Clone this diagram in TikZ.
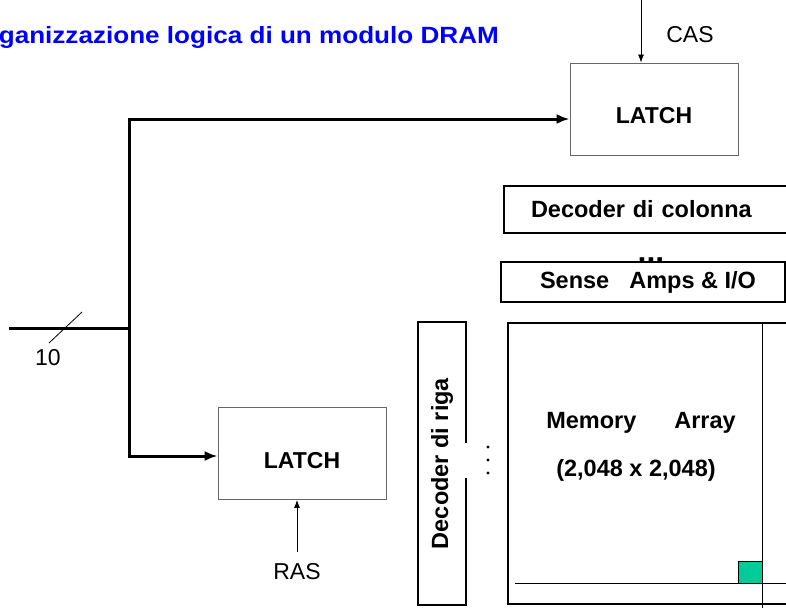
\documentclass[tikz,border=0pt]{standalone}
\usepackage{fontspec}
\setmainfont{Liberation Sans}
\usetikzlibrary{arrows.meta,positioning}
\definecolor{titleblue}{RGB}{0,0,255}
\definecolor{cellgreen}{RGB}{0,204,153}

\tikzset{
  latchbox/.style={draw=black!60, line width=0.8pt, minimum width=168pt,
    minimum height=92pt, text height=30pt, font=\fontsize{23}{27}\selectfont\bfseries},
  blockbox/.style={draw, line width=2pt, font=\fontsize{23.5}{28}\selectfont\bfseries},
  bus/.style={line width=3pt, -{Latex[length=13pt,width=10pt]}},
  ctrl/.style={line width=0.8pt, -{Latex[length=8pt,width=6pt]}},
  sig/.style={font=\fontsize{23}{27}\selectfont}
}

\begin{document}
\begin{tikzpicture}[x=1pt, y=-1pt]
  \useasboundingbox (0,0) rectangle (786,607);
  \clip (0,0) rectangle (786,607);

  \node[anchor=base east, text=titleblue, font=\fontsize{23.5}{28}\selectfont\bfseries,
    inner sep=0pt, xscale=1.11, transform shape] (title) at (499,44)
    {Organizzazione logica di un modulo DRAM};

  \node[latchbox] (latchcol) at (654,109) {LATCH};
  \node[latchbox] (latchrow) at (302,453.5) {LATCH};

  \coordinate (cassrc) at (641,0);
  \draw[ctrl] (cassrc) -- (cassrc |- latchcol.north);
  \node[sig] (cas) at (690,35) {CAS};

  \coordinate (rassrc) at (297,552);
  \draw[ctrl] (rassrc) -- (rassrc |- latchrow.south);
  \node[sig] (ras) at (297,572) {RAS};

  \coordinate (busin) at (9,328);
  \coordinate (bustop) at (129,119);
  \coordinate (busbot) at (129,456);
  \draw[line width=3pt] (busin) -- (busin -| bustop);
  \draw[bus] (busbot) -- (bustop) -- (bustop -| latchcol.west);
  \draw[bus] (bustop) -- (busbot) -- (busbot -| latchrow.west);
  \coordinate (slash) at (65,328);
  \draw[line width=0.8pt] ([shift={(-16,15)}]slash) -- ([shift={(17,-16)}]slash);
  \node[sig] (buswidth) at (48,358) {10};

  \node[blockbox, anchor=north west, minimum height=47pt, text width=270pt,
    align=left, inner xsep=27pt] (deccol) at (503,185) {Decoder di colonna};
  \node[font=\fontsize{32}{32}\selectfont\bfseries, inner sep=0pt, anchor=base]
    (coldots) at (651,262) {...};
  \node[blockbox, minimum width=284pt, minimum height=40pt] (sense) at (643,282)
    {\hspace{10pt}Sense\hspace{20pt}Amps \& I/O};

  \node[blockbox, anchor=north west, minimum width=320pt, minimum height=281pt]
    (memarr) at (507,322) {};
  \node[blockbox, draw=none] (memtxt) at (641,423) {Memory\hspace{38pt}Array};
  \node[blockbox, draw=none] (memdim) at (636,470) {(2,048 x 2,048)};
  \coordinate (bitline) at (762,322);
  \coordinate (wordline) at (515,583);
  \draw[line width=0.8pt] (bitline) -- ++(0,300);
  \draw[line width=0.8pt] (wordline) -- ++(300,0);
  \draw[fill=cellgreen, line width=0.8pt] (738,561) rectangle (762,583);

  \node[blockbox, rotate=90, minimum width=283pt, minimum height=48pt]
    (decriga) at (442,463.5) {Decoder di riga\hspace{17pt}};
  \node[fill=white, minimum width=44pt, minimum height=35pt, inner sep=0pt]
    (rowdots) at (482,460) {};
  \foreach \dy in {-13,0,13}
    \fill ([shift={(6,\dy)}]rowdots.center) circle (1.7pt);
\end{tikzpicture}
\end{document}
